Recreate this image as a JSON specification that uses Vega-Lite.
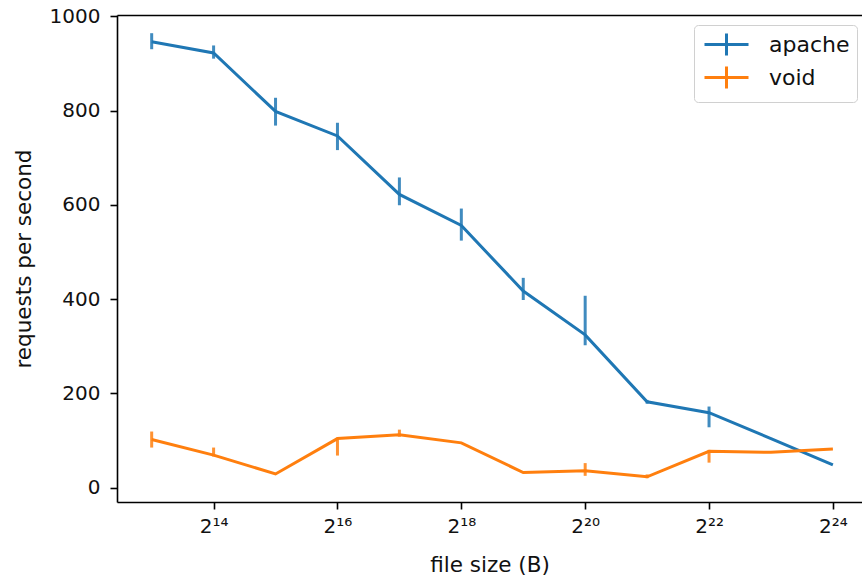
{
  "$schema": "https://vega.github.io/schema/vega-lite/v6.json",
  "width": 745,
  "height": 487,
  "autosize": {"type": "none"},
  "padding": {"left": 117, "top": 15, "right": 0, "bottom": 78},
  "background": "white",
  "config": {
    "view": {"stroke": null},
    "font": "DejaVu Sans",
    "axis": {
      "domainColor": "#000000",
      "domainWidth": 1.6,
      "tickColor": "#000000",
      "tickWidth": 1.6,
      "tickSize": 7,
      "labelFontSize": 20,
      "labelColor": "#111111",
      "titleFontSize": 21.5,
      "titleFontWeight": "normal",
      "titleColor": "#111111",
      "grid": false
    },
    "axisX": {"labelPadding": 7, "titlePadding": 18},
    "axisY": {"labelPadding": 10, "titlePadding": 14}
  },
  "data": {
    "values": [
      {"series": "apache", "size": 8192, "rps": 946, "lo": 930, "hi": 964},
      {"series": "apache", "size": 16384, "rps": 922, "lo": 910, "hi": 938},
      {"series": "apache", "size": 32768, "rps": 798, "lo": 768, "hi": 827},
      {"series": "apache", "size": 65536, "rps": 746, "lo": 716, "hi": 774},
      {"series": "apache", "size": 131072, "rps": 622, "lo": 599, "hi": 658},
      {"series": "apache", "size": 262144, "rps": 556, "lo": 524, "hi": 592},
      {"series": "apache", "size": 524288, "rps": 417, "lo": 398, "hi": 445},
      {"series": "apache", "size": 1048576, "rps": 324, "lo": 302, "hi": 407},
      {"series": "apache", "size": 2097152, "rps": 182, "lo": 178, "hi": 186},
      {"series": "apache", "size": 4194304, "rps": 159, "lo": 128, "hi": 172},
      {"series": "apache", "size": 8388608, "rps": 104, "lo": 104, "hi": 104},
      {"series": "apache", "size": 16777216, "rps": 48, "lo": 48, "hi": 48},
      {"series": "void", "size": 8192, "rps": 102, "lo": 85, "hi": 119},
      {"series": "void", "size": 16384, "rps": 69, "lo": 66, "hi": 85},
      {"series": "void", "size": 32768, "rps": 29, "lo": 29, "hi": 29},
      {"series": "void", "size": 65536, "rps": 104, "lo": 68, "hi": 106},
      {"series": "void", "size": 131072, "rps": 112, "lo": 108, "hi": 123},
      {"series": "void", "size": 262144, "rps": 95, "lo": 95, "hi": 95},
      {"series": "void", "size": 524288, "rps": 32, "lo": 32, "hi": 32},
      {"series": "void", "size": 1048576, "rps": 36, "lo": 25, "hi": 52},
      {"series": "void", "size": 2097152, "rps": 23, "lo": 20, "hi": 28},
      {"series": "void", "size": 4194304, "rps": 77, "lo": 53, "hi": 80},
      {"series": "void", "size": 8388608, "rps": 75, "lo": 75, "hi": 75},
      {"series": "void", "size": 16777216, "rps": 82, "lo": 82, "hi": 82}
    ]
  },
  "layer": [
    {
      "mark": {"type": "line", "strokeWidth": 3},
      "encoding": {
        "x": {
          "field": "size",
          "type": "quantitative",
          "scale": {"type": "log", "base": 2, "domain": [5557, 23238000], "nice": false},
          "axis": {
            "orient": "bottom",
            "values": [16384, 65536, 262144, 1048576, 4194304, 16777216],
            "labelExpr": "'2' + (round(log(datum.value)/LN2) == 14 ? '¹⁴' : round(log(datum.value)/LN2) == 16 ? '¹⁶' : round(log(datum.value)/LN2) == 18 ? '¹⁸' : round(log(datum.value)/LN2) == 20 ? '²⁰' : round(log(datum.value)/LN2) == 22 ? '²²' : '²⁴')",
            "title": "file size (B)"
          }
        },
        "y": {
          "field": "rps",
          "type": "quantitative",
          "scale": {"domain": [-30.5, 1002.6], "nice": false, "zero": false},
          "axis": {"values": [0, 200, 400, 600, 800, 1000], "format": "d", "title": "requests per second"}
        },
        "color": {
          "field": "series",
          "type": "nominal",
          "scale": {"domain": ["apache", "void"], "range": ["#1f77b4", "#ff7f0e"]},
          "legend": {
            "title": null,
            "orient": "none",
            "legendX": 577,
            "legendY": 10,
            "symbolType": "M-2,0H2M0,-1V1",
            "symbolSize": 484,
            "symbolOffset": 13,
            "symbolStrokeWidth": 3,
            "symbolFillColor": "transparent",
            "labelFontSize": 22,
            "labelColor": "#111111",
            "labelOffset": 30,
            "padding": 7,
            "rowPadding": -2,
            "strokeColor": "#d0d0d0",
            "fillColor": "white",
            "cornerRadius": 4
          }
        }
      }
    },
    {
      "mark": {"type": "rule", "strokeWidth": 3, "opacity": 0.85},
      "encoding": {
        "x": {
          "field": "size",
          "type": "quantitative",
          "axis": {"orient": "top", "labels": false, "ticks": false, "title": null, "domain": true}
        },
        "y": {"field": "lo", "type": "quantitative", "title": "requests per second"},
        "y2": {"field": "hi"},
        "color": {"field": "series", "type": "nominal", "legend": null}
      }
    }
  ],
  "resolve": {"axis": {"x": "independent"}}
}
